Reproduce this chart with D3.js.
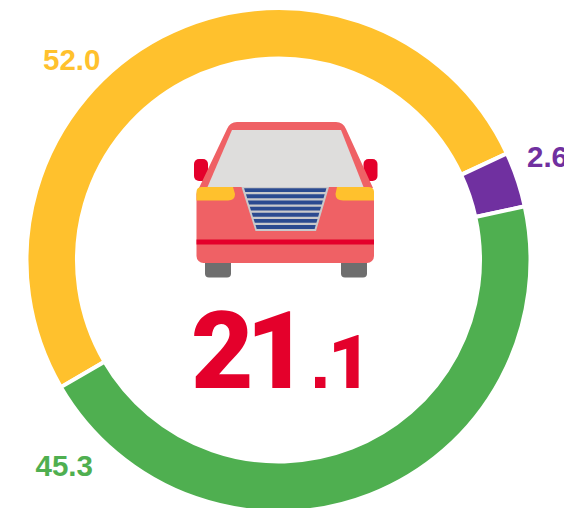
<!DOCTYPE html>
<html><head><meta charset="utf-8">
<style>html,body{margin:0;padding:0;background:#fff;overflow:hidden}svg{display:block}text{font-family:"Liberation Sans",Arial,sans-serif;font-weight:700}</style>
<script src="https://cdn.jsdelivr.net/npm/d3@7"></script></head><body>
<script>
const categories = ["Yellow", "Purple", "Green"];
const labelValues = ["52.0", "2.6", "45.3"];
const arcShares = [51.47, 3.53, 45.0];
const colours = ["#FFC12D", "#7030A0", "#4FAF50"];
const labelX = [43, 527, 35.5];
const labelY = [70, 167, 476];
const bigValue = ["2", "1"];
const smallValue = [".", "1"];

const svg = d3.select("body").append("svg").attr("width", 564).attr("height", 508);
const cx = 278.5, cy = 260;
const pie = d3.pie().sort(null).value(d => d)
  .startAngle(-120.3 * Math.PI / 180).endAngle(239.7 * Math.PI / 180);
const arc = d3.arc().innerRadius(201.5).outerRadius(252);
svg.append("g").attr("transform", `translate(${cx},${cy})`)
  .selectAll("path").data(pie(arcShares)).join("path")
  .attr("d", arc).attr("fill", (d, i) => colours[i])
  .attr("stroke", "#fff").attr("stroke-width", 4);

svg.selectAll("text.lab").data(labelValues).join("text").attr("class", "lab")
  .attr("x", (d, i) => labelX[i]).attr("y", (d, i) => labelY[i])
  .attr("font-size", 29.5).attr("fill", (d, i) => colours[i]).text(d => d);

const big = svg.append("text").attr("y", 388).attr("fill", "#E4002B");
const glyph = (s, x, size, family, weight) => big.append("tspan").attr("x", x)
  .style("font-family", family).style("font-weight", weight).attr("font-size", size).text(s);
glyph(bigValue[0], 191, 108, "Roboto", 900);
glyph(bigValue[1], 246, 108, "Roboto", 900);
glyph(smallValue[0], 310, 74, "Liberation Sans", 700);
glyph(smallValue[1], 328, 75, "Roboto", 900);

const car = svg.append("g");
const red = "#EF6165", dark = "#E4002B", amber = "#FFC12D", grey = "#6E6E6E";
car.append("rect").attr("x",205).attr("y",255).attr("width",26).attr("height",22.5).attr("rx",4).attr("fill",grey);
car.append("rect").attr("x",341).attr("y",255).attr("width",26).attr("height",22.5).attr("rx",4).attr("fill",grey);
car.append("rect").attr("x",194).attr("y",159).attr("width",14).attr("height",22).attr("rx",5).attr("fill",dark);
car.append("rect").attr("x",363.5).attr("y",159).attr("width",14).attr("height",22).attr("rx",5).attr("fill",dark);
car.append("path").attr("fill",red).attr("d","M199 188 L227 129 Q230 122 237 122 L336 122 Q343 122 346 129 L373 188 Z");
car.append("rect").attr("x",196.5).attr("y",187).attr("width",177.5).attr("height",76).attr("rx",7).attr("fill",red);
car.append("path").attr("fill","#DEDDDC").attr("d","M207.5 187 L232 130 L341 130 L363.5 187 Z");
car.append("path").attr("fill",amber).attr("d","M196.5 192 Q196.5 187 202 187 L233 187 L235 194 Q235 200.5 228 200.5 L196.5 200.5 Z");
car.append("path").attr("fill",amber).attr("d","M374 192 Q374 187 368 187 L337 187 L335.5 194 Q335.5 200.5 343 200.5 L374 200.5 Z");
car.append("path").attr("fill","#C9C9CB").attr("d","M241.5 187 L329 187 L316 231 L255.5 231 Z");
for (let k = 0; k < 7; k++) {
  const y0 = 188.2 + k * 6.15, y1 = y0 + 3.9;
  const l = y => 244 + (y - 188) * 0.31, r = y => 326.5 - (y - 188) * 0.29;
  car.append("path").attr("fill","#2B4A90")
    .attr("d",`M${l(y0)} ${y0} L${r(y0)} ${y0} L${r(y1)} ${y1} L${l(y1)} ${y1} Z`);
}
car.append("rect").attr("x",196.5).attr("y",239.5).attr("width",177.5).attr("height",5).attr("fill",dark);
</script></body></html>
